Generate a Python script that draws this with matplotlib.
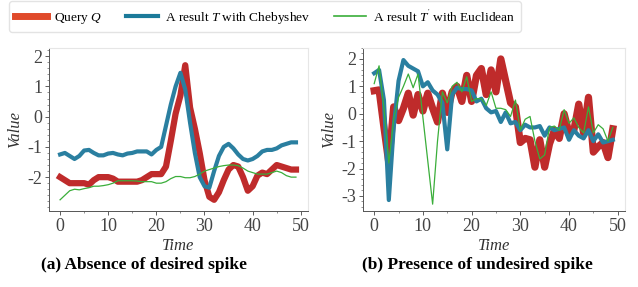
import matplotlib.pyplot as plt
from matplotlib.lines import Line2D
from matplotlib.ticker import AutoMinorLocator

plt.rcParams['font.family'] = ['Liberation Serif', 'DejaVu Serif']
plt.rcParams['mathtext.fontset'] = 'custom'
plt.rcParams['mathtext.it'] = 'Liberation Serif:italic'

t = list(range(50))

# (a) absence of desired spike
q_a = [-2.0, -2.1, -2.2, -2.2, -2.2, -2.2, -2.25, -2.1, -2.0, -2.0,
       -2.0, -2.05, -2.15, -2.15, -2.15, -2.15, -2.15, -2.1, -2.0, -1.9,
       -1.9, -1.9, -1.65, -0.8, 0.1, 0.7, 1.7, 0.3, -0.4, -1.2,
       -2.1, -2.65, -2.75, -2.5, -2.1, -1.75, -1.6, -1.65, -2.0, -2.45,
       -2.3, -1.95, -1.85, -1.9, -1.75, -1.6, -1.65, -1.7, -1.75, -1.75]
cheb_a = [-1.25, -1.2, -1.3, -1.4, -1.3, -1.12, -1.1, -1.2, -1.28, -1.28,
          -1.22, -1.2, -1.25, -1.28, -1.22, -1.2, -1.15, -1.15, -1.15, -1.25,
          -1.1, -1.0, -0.3, 0.4, 1.0, 1.45, 0.9, -0.2, -1.2, -2.0,
          -2.3, -2.35, -1.8, -1.3, -1.0, -0.9, -1.05, -1.25, -1.4, -1.45,
          -1.4, -1.3, -1.15, -1.1, -1.1, -1.05, -0.95, -0.9, -0.85, -0.85]
eucl_a = [-2.75, -2.6, -2.45, -2.4, -2.42, -2.38, -2.35, -2.3, -2.3, -2.28,
          -2.25, -2.2, -2.12, -2.12, -2.12, -2.12, -2.13, -2.15, -2.15, -2.15,
          -2.2, -2.2, -2.15, -2.05, -1.98, -1.98, -2.02, -2.02, -1.98, -1.9,
          -1.8, -1.75, -1.7, -1.65, -1.62, -1.6, -1.6, -1.62, -1.7, -1.8,
          -1.85, -1.9, -1.9, -1.9, -1.85, -1.8, -1.85, -1.95, -2.0, -2.0]

# (b) presence of undesired spike
q_b = [0.84, 0.87, -0.5, -1.8, 0.25, -0.25, 0.2, 0.75, -0.05, 0.7,
       0.1, 0.75, 0.2, -0.3, 0.75, 0.05, 0.8, 1.0, 0.45, 1.4,
       0.45, 1.4, 1.65, 0.7, 1.6, 0.8, 2.0, 1.2, 0.4, 0.25,
       -1.05, -0.9, -0.95, -1.95, -0.95, -1.95, -1.1, -0.6, -0.9, 0.0,
       -0.7, -0.6, 0.35, -0.7, 0.6, -1.4, -1.2, -1.05, -1.6, -0.55]
cheb_b = [1.48, 1.6, 0.5, -3.15, -0.5, 1.2, 1.96, 1.75, 1.65, 1.55,
          1.0, 1.15, 0.85, 0.7, 0.4, -1.3, 0.7, 0.95, 0.9, 0.9,
          0.85, 0.45, 0.55, 0.2, 0.05, 0.1, -0.3, 0.05, -0.35, -0.3,
          -0.6, -0.4, -0.5, -0.5, -0.45, -0.8, -0.5, -0.6, -0.55, -0.5,
          -0.95, -0.6, -0.8, -0.9, -0.6, -1.0, -0.75, -1.05, -1.0, -0.95]
eucl_b = [1.1, 1.75, 0.2, -1.8, -0.2, 0.6, 1.0, 1.45, 0.95, 1.45,
          -0.13, -1.72, -3.3, -1.0, 0.8, 0.4, 1.0, 1.15, 0.8, 1.35,
          0.45, 0.55, 0.55, 0.3, 0.8, 0.2, 0.2, 0.15, -0.1, 0.5,
          -0.6, -0.2, -0.1, -1.0, -1.65, -1.5, -0.5, -0.45, -0.6, 0.15,
          -0.35, -0.15, -0.5, -0.7, 0.25, -0.7, -0.4, -0.55, -1.0, -0.5]

captions = ['(a) Absence of desired spike', '(b) Presence of undesired spike']

red = '#bf2b2b'
blue = '#2a7fa0'
green = '#3aae3a'

fig = plt.figure(figsize=(6.38, 2.87), dpi=100)
ax1 = fig.add_axes([49 / 638, 1 - 211 / 287, 259 / 638, 163 / 287])
ax2 = fig.add_axes([363 / 638, 1 - 211 / 287, 262 / 638, 163 / 287])

panels = [(ax1, q_a, cheb_a, eucl_a, (-3.12, 2.27), [-2, -1, 0, 1, 2], 4.5),
          (ax2, q_b, cheb_b, eucl_b, (-3.55, 2.4), [-3, -2, -1, 0, 1, 2], 5.2)]

for i, (ax, q, ch, eu, ylim, yt, qw) in enumerate(panels):
    ax.plot(t, q, color=red, lw=qw, zorder=2)
    ax.plot(t, ch, color=blue, lw=3.0, zorder=3)
    ax.plot(t, eu, color=green, lw=0.9, zorder=4)
    ax.set_xlim(-2.3, 51.5)
    ax.set_ylim(*ylim)
    ax.set_xticks([0, 10, 20, 30, 40, 50])
    ax.set_yticks(yt)
    ax.set_yticklabels([str(v) for v in yt])
    ax.xaxis.set_minor_locator(AutoMinorLocator(2))
    ax.yaxis.set_minor_locator(AutoMinorLocator(5))
    ax.tick_params(labelsize=13, colors='#444444', length=3, width=0.6, pad=2)
    ax.tick_params(which='minor', length=1.5, width=0.5, colors='#666666')
    for s in ['top', 'right']:
        ax.spines[s].set_color('#e6e6e6')
    for s in ['left', 'bottom']:
        ax.spines[s].set_color('#555555')
        ax.spines[s].set_linewidth(0.7)
    ax.set_xlabel('Time', fontsize=12, style='italic', color='#333333', labelpad=2)
    ax.set_ylabel('Value', fontsize=12, style='italic', color='#333333', labelpad=3)

fig.text(144 / 638, 1 - 265 / 287, captions[0], ha='center', va='center',
         fontsize=12.5, fontweight='bold')
fig.text(477 / 638, 1 - 265 / 287, captions[1], ha='center', va='center',
         fontsize=12.5, fontweight='bold')

handles = [Line2D([], [], color='#e04a2a', lw=5),
           Line2D([], [], color='#1b7a9a', lw=3),
           Line2D([], [], color='#3aae3a', lw=1.2)]
labels = ['Query $Q$', 'A result $T$ with Chebyshev',
          "A result $T^{'}$ with Euclidean"]
fig.legend(handles, labels, loc='upper left', bbox_to_anchor=(8 / 638, 1.0),
           ncol=3, fontsize=9.6, frameon=True, fancybox=True, edgecolor='#dddddd',
           handlelength=2.4, columnspacing=1.8, borderpad=0.45, handletextpad=0.5,
           borderaxespad=0.1)

fig.savefig('out.png', dpi=100)
